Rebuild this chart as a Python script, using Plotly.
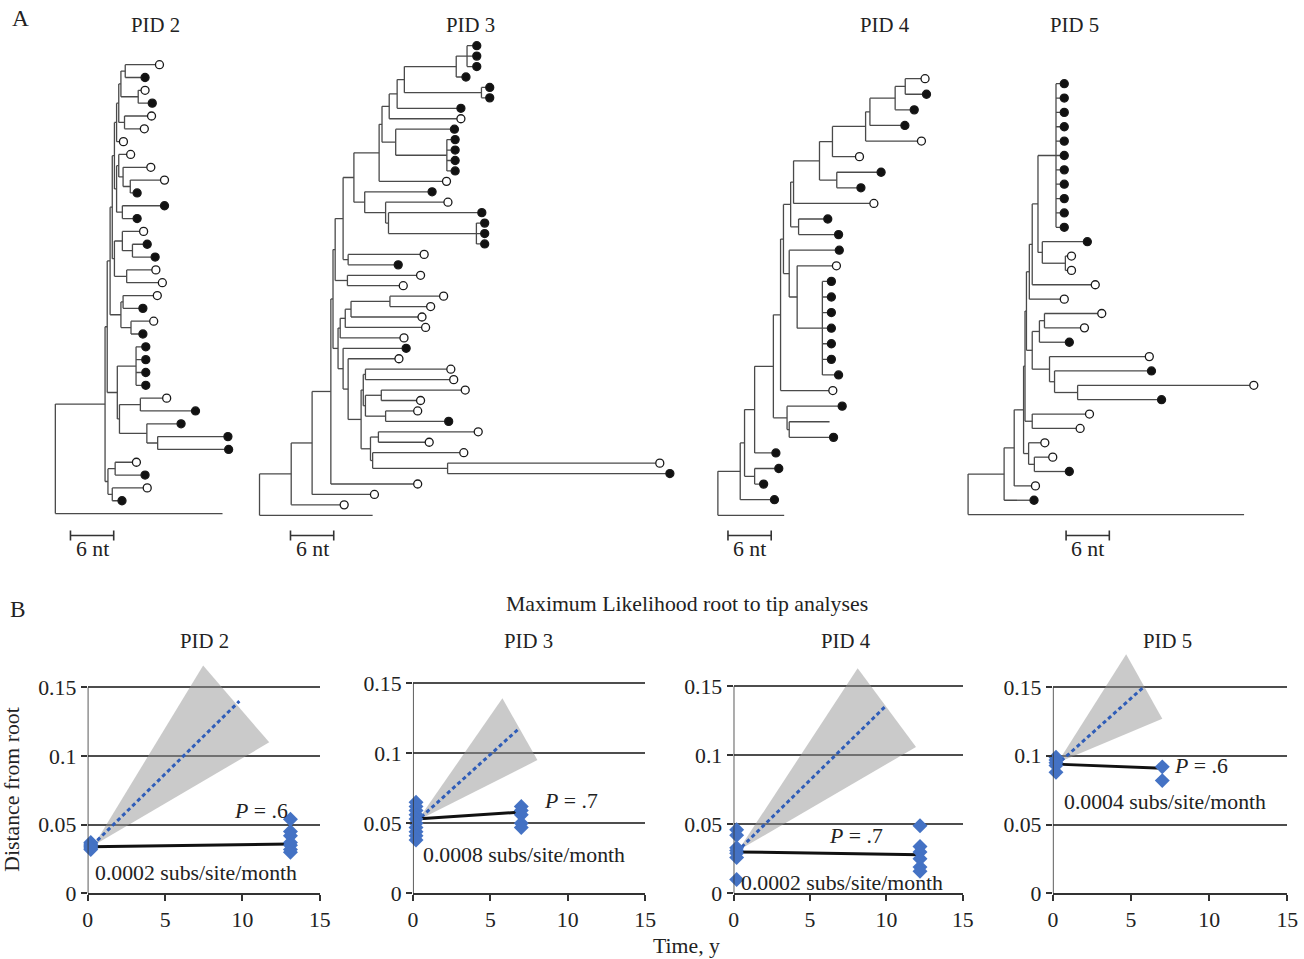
import plotly.graph_objects as go

# figure (page) size and on-screen calibration of the photographed page
W, H = 1312, 972
CAL_SCALE = 0.987
CAL_OFF_X, CAL_OFF_Y = 4.7, 0.3
FONT = "Liberation Serif"
TXT = "#222222"

# ---------------- Panel A data: trees (Newick, branch lengths in nt) ----------------
# tip labels: o = open circle, f = filled circle, n = no marker
# PID 2
P2_G1 = "(((o:4.2,f:2.2):0.6,(o:0.4,f:1.4):2.4):0.3,(o:3.2,o:2.2):0.8):0.3"
P2_Y = f"({P2_G1},o:0.4):0.3"
P2_G23 = "((o:1.1,(o:3.3,(o:4.2,f:0.4):1.0):0.6):0.3,(f:5.3,f:1.5):0.8):0.3"
P2_X = f"({P2_Y},{P2_G23}):0.3"
P2_G45 = "((o:2.4,(f:1.5,f:2.6):1.4):1.1,(o:3.5,o:4.4):1.7):0.3"
P2_W = f"({P2_X},{P2_G45}):0.3"
P2_G6 = "((o:4.2,f:2.2):0.3,(o:2.6,f:1.1):1.4):1.5"
P2_V = f"({P2_W},{P2_G6}):0.4"
P2_G78 = "((f:0.8,f:0.8,f:0.8,f:0.8):2.6,((o:3.1,f:7.1):2.9,(f:4.2,(f:9.2,f:9.3):1.5):3.8):0.3):1.4"
P2_U = f"({P2_V},{P2_G78}):0.3"
P2_G9 = "((o:2.4,f:3.6):1.0,(o:4.3,f:0.8):0.6):0.4"
TREE_PID2 = f"(({P2_U},{P2_G9}):6.9,n:23.2);"

# PID 3
P3_TA5 = "((f:0.8,f:0.8,f:0.8):1.5,f:0.8):7.2"
P3_TA6 = "(f:0.6,f:0.6):10.7"
P3_TA4 = f"({P3_TA5},{P3_TA6}):1.0"
P3_TA3 = f"({P3_TA4},f:8.3):1.1"
P3_TA2 = f"({P3_TA3},o:9.4):1.0"
P3_TC = "(f:7.6,(f:0.6,f:0.6,f:0.6,f:0.6):7.1):1.9"
P3_TA1 = f"({P3_TA2},{P3_TC}):0.4"
P3_TA = f"({P3_TA1},o:8.8):3.5"
P3_TB = "(f:8.8,(o:8.1,(f:12.4,(f:0.6,f:0.6,f:0.6):12.2):0.4):2.9):1.5"
P3_T1 = f"({P3_TA},{P3_TB}):1.5"
P3_N5 = f"({P3_T1},(o:10.0,f:6.4):0.7):1.1"
P3_N4 = f"({P3_N5},(o:9.6,o:7.2):1.7):0.3"
P3_LA2 = "((((o:6.9,o:5.1):5.4,o:9.3):0.8,o:10.6):0.7,o:8.3):0.3"
P3_LC1 = "((o:11.3,o:11.7):0.3,((o:11.1,o:4.9):2.2,(o:3.9,f:8.2):2.8):0.3):0.3"
P3_LC2 = "((o:13.3,o:6.5):1.1,(o:12.1,(o:28.9,f:30.3):10.4):0.3):1.3"
P3_LREST = f"(f:8.2,(o:6.5,({P3_LC1},{P3_LC2}):1.8):0.7):0.7"
P3_L = f"({P3_LA2},{P3_LREST}):0.7"
P3_N3B = f"({P3_N4},{P3_L}):0.3"
P3_N3 = f"({P3_N3B},o:11.5):2.6"
P3_N2 = f"({P3_N3},o:8.1):2.9"
P3_N1 = f"({P3_N2},o:6.8):4.4"
TREE_PID3 = f"({P3_N1},n:15.7);"

# PID 4
P4_N16 = "(o:2.2,f:2.4):1.4"
P4_N15 = f"({P4_N16},f:2.1):3.5"
P4_N14 = f"({P4_N15},f:4.3):0.6"
P4_N13 = f"({P4_N14},o:7.2):4.6"
P4_N12 = f"({P4_N13},o:3.2):1.8"
P4_N11 = f"({P4_N12},(f:5.6,f:2.8):2.4):3.6"
P4_N10 = f"({P4_N11},o:10.6):0.4"
P4_N6 = f"({P4_N10},(f:3.5,f:5.0):1.1):1.0"
P4_N7 = "(f:6.4,(o:4.9,(f:0.7,f:0.7,f:0.7,f:0.7,f:0.7,f:0.7,f:1.7):3.5):1.1):0.8"
P4_N5 = f"({P4_N6},{P4_N7}):0.4"
P4_N4 = f"({P4_N5},o:6.7):1.0"
P4_C22 = "(f:7.1,(n:5.6,f:5.6):0.3):1.9"
P4_N3 = f"({P4_N4},{P4_C22}):2.6"
P4_N2A = f"({P4_N3},f:2.4):1.4"
P4_N2B = "(f:2.8,f:0.7):1.4"
P4_N2 = f"({P4_N2A},{P4_N2B}):0.6"
P4_N1 = f"({P4_N2},f:4.2):3.1"
TREE_PID4 = f"({P4_N1},n:9.2);"

# PID 5
P5_P = "(f:0.6,f:0.6,f:0.6,f:0.6,f:0.6,f:0.6,f:0.6,f:0.6,f:0.6,f:0.6,f:0.6):2.5"
P5_N4 = f"(({P5_P},(f:5.7,(o:0.3,o:0.3):3.2):0.6):0.8,o:8.2):0.4"
P5_N5 = "(((o:7.4,o:5.0):0.7,f:3.6):1.0,(o:13.3,(f:12.9,(o:23.9,f:11.1):3.2):0.7):2.4):0.8"
P5_N3C = f"({P5_N4},o:4.3):0.4"
P5_N3B = f"({P5_N3C},{P5_N5}):0.2"
P5_N3A = f"({P5_N3B},(o:7.4,o:6.1):1.0):0.2"
P5_N3 = f"({P5_N3A},(o:1.7,(o:2.0,f:4.3):0.8):0.7):1.3"
TREE_PID5 = f"((({P5_N3},o:2.4):1.4,f:3.6):5.0,n:38.3);"

TREES = [TREE_PID2, TREE_PID3, TREE_PID4, TREE_PID5]
TREE_TITLES = ["PID 2", "PID 3", "PID 4", "PID 5"]
SCALE_NT = 6
SCALE_START_NT = [2.1, 4.3, 1.4, 13.6]

# ---------------- Panel B data ----------------
SUB_TITLES = ["PID 2", "PID 3", "PID 4", "PID 5"]
T_BASE = [0.2, 0.2, 0.2, 0.2]
T_FOLLOW = [13.1, 7.0, 12.2, 7.0]
D_BASE = [
    [0.037, 0.036, 0.035, 0.034, 0.033, 0.032],
    [0.065, 0.062, 0.059, 0.056, 0.053, 0.050, 0.047, 0.044, 0.041, 0.038],
    [0.046, 0.042, 0.033, 0.031, 0.029, 0.026, 0.010],
    [0.099, 0.097, 0.095, 0.093, 0.088],
]
D_FOLLOW = [
    [0.054, 0.045, 0.042, 0.037, 0.035, 0.032, 0.030],
    [0.062, 0.059, 0.056, 0.050, 0.047],
    [0.049, 0.034, 0.030, 0.025, 0.019, 0.016],
    [0.092, 0.082],
]
FIT_START = [0.034, 0.053, 0.030, 0.094]
FIT_END = [0.036, 0.058, 0.028, 0.091]
EXP_X = [[0.3, 9.8], [0.2, 6.9], [0.2, 9.9], [0.2, 5.8]]
EXP_Y = [[0.035, 0.140], [0.051, 0.118], [0.030, 0.135], [0.093, 0.150]]
CONE_X = [[0.4, 7.46, 11.73], [0.3, 5.78, 8.04], [0.3, 8.12, 11.94], [0.3, 4.69, 7.0]]
CONE_Y = [[0.035, 0.166, 0.110], [0.052, 0.139, 0.095], [0.031, 0.163, 0.106], [0.095, 0.174, 0.127]]
P_TEXT = ["<i>P</i> = .6", "<i>P</i> = .7", "<i>P</i> = .7", "<i>P</i> = .6"]
P_POS = [(11.2, 0.060), (10.2, 0.0655), (8.0, 0.0415), (9.5, 0.0926)]
RATE_TEXT = ["0.0002 subs/site/month", "0.0008 subs/site/month",
             "0.0002 subs/site/month", "0.0004 subs/site/month"]
RATE_POS = [(7.0, 0.0145), (7.2, 0.027), (7.1, 0.0077), (7.15, 0.0664)]
X_TICKS = [0, 5, 10, 15]
Y_TICKS = [0, 0.05, 0.1, 0.15]
Y_TICKTEXT = ["0", "0.05", "0.1", "0.15"]

# ---------------- layout constants (target pixels) ----------------
PX_PER_NT = 7.2
TREE_ROOT_PX = [55, 259, 717, 967]
TREE_DOM_PX = [(40, 250), (250, 700), (700, 950), (950, 1295)]
TREE_ROW0_PX = [65, 46, 79, 84]
TREE_ROW_STEP = [12.83, 10.44, 15.6, 14.37]
TREE_Y_DOM_PX = (30, 526)
TREE_TITLE_X = [155, 470, 884, 1073]
SCALE_Y_PX = 536
TIP_GAP_NT = 0.55

SUB_X_PX = [(87.3, 319.3), (412.3, 644.3), (732.7, 961.7), (1051.7, 1286.0)]
SUB_Y0_PX = 894
SUB_Y15_PX = [688, 683.5, 686.7, 687.7]
Y_TOP = 0.18
SUB_TITLE_X = [204, 528, 845, 1166]

FS_TEXT = 21.5 / CAL_SCALE
FS_TITLE = 20.5 / CAL_SCALE
FS_LETTER = 23 / CAL_SCALE


def parse_newick(s):
    s = s.strip().rstrip(";")
    pos = 0

    def node():
        nonlocal pos
        children = []
        if s[pos] == "(":
            pos += 1
            while True:
                children.append(node())
                if s[pos] == ",":
                    pos += 1
                    continue
                if s[pos] == ")":
                    pos += 1
                    break
        start = pos
        while pos < len(s) and s[pos] not in ":,)":
            pos += 1
        label = s[start:pos]
        length = 0.0
        if pos < len(s) and s[pos] == ":":
            pos += 1
            start = pos
            while pos < len(s) and s[pos] not in ",)":
                pos += 1
            length = float(s[start:pos])
        return {"children": children, "label": label, "len": length}

    return node()


def layout_tree(root):
    lx, ly, tips = [], [], []
    counter = [0]

    def walk(n, parent_depth, is_root):
        depth = parent_depth + (0 if is_root else n["len"])
        if not n["children"]:
            y = counter[0]
            counter[0] += 1
            tips.append((depth, y, n["label"]))
        else:
            ys = [walk(c, depth, False) for c in n["children"]]
            y = (ys[0] + ys[-1]) / 2.0
            lx.extend([depth, depth, None])
            ly.extend([ys[0], ys[-1], None])
        if not is_root:
            lx.extend([parent_depth, depth, None])
            ly.extend([y, y, None])
        return y

    walk(root, 0.0, True)
    return lx, ly, tips, counter[0]


def px2paper_x(px):
    return ((px - CAL_OFF_X) / CAL_SCALE) / W


def px2paper_y(py):
    return 1 - ((py - CAL_OFF_Y) / CAL_SCALE) / H


fig = go.Figure()
layout = dict(
    width=W, height=H, margin=dict(l=0, r=0, t=0, b=0),
    paper_bgcolor="white", plot_bgcolor="rgba(0,0,0,0)",
    showlegend=False, font=dict(family=FONT, size=FS_TEXT, color=TXT),
)
shapes, annotations = [], []

# ---------------- Panel A ----------------
for i, tree in enumerate(TREES):
    ax = i + 1
    xname = "x" if ax == 1 else f"x{ax}"
    yname = "y" if ax == 1 else f"y{ax}"
    root = parse_newick(tree)
    lx, ly, tips, ntips = layout_tree(root)
    fig.add_trace(go.Scatter(x=lx, y=ly, mode="lines",
                             line=dict(color="#4a4a4a", width=1.3),
                             xaxis=xname, yaxis=yname, hoverinfo="skip"))
    for lab, fill in (("f", "#111111"), ("o", "white")):
        xs = [t[0] + TIP_GAP_NT for t in tips if t[2] == lab]
        ys = [t[1] for t in tips if t[2] == lab]
        fig.add_trace(go.Scatter(
            x=xs, y=ys, mode="markers", cliponaxis=False,
            marker=dict(symbol="circle", size=8, color=fill,
                        line=dict(color="#1a1a1a", width=1.3)),
            xaxis=xname, yaxis=yname, hoverinfo="skip"))
    d0, d1 = TREE_DOM_PX[i]
    r = TREE_ROOT_PX[i]
    xr = [(d0 - r) / PX_PER_NT, (d1 - r) / PX_PER_NT]
    top, bot = TREE_Y_DOM_PX
    row_top = (top - TREE_ROW0_PX[i]) / TREE_ROW_STEP[i]
    row_bot = (bot - TREE_ROW0_PX[i]) / TREE_ROW_STEP[i]
    layout["xaxis" if ax == 1 else f"xaxis{ax}"] = dict(
        domain=[px2paper_x(d0), px2paper_x(d1)], range=xr, visible=False,
        anchor=yname, fixedrange=True)
    layout["yaxis" if ax == 1 else f"yaxis{ax}"] = dict(
        domain=[px2paper_y(bot), px2paper_y(top)], range=[row_bot, row_top],
        visible=False, anchor=xname, fixedrange=True)
    # scale bar
    s0 = SCALE_START_NT[i]
    s1 = s0 + SCALE_NT
    yb = px2paper_y(SCALE_Y_PX)
    tk = 5 / (H * CAL_SCALE)
    for (xa, xb, ya, yb2) in ((s0, s1, yb, yb), (s0, s0, yb - tk, yb + tk), (s1, s1, yb - tk, yb + tk)):
        shapes.append(dict(type="line", xref=xname, yref="paper", x0=xa, x1=xb,
                           y0=ya, y1=yb2, line=dict(color="#333333", width=1.6)))
    annotations.append(dict(text=f"{SCALE_NT} nt", xref=xname, yref="paper",
                            x=(s0 + s1) / 2, y=px2paper_y(550), showarrow=False,
                            font=dict(size=FS_TEXT), xanchor="center", yanchor="middle"))
    annotations.append(dict(text=TREE_TITLES[i], xref="paper", yref="paper",
                            x=px2paper_x(TREE_TITLE_X[i]), y=px2paper_y(25),
                            showarrow=False, font=dict(size=FS_TITLE),
                            xanchor="center", yanchor="middle"))

# ---------------- Panel B ----------------
for i in range(4):
    ax = i + 5
    xname, yname = f"x{ax}", f"y{ax}"
    fig.add_trace(go.Scatter(x=CONE_X[i] + [CONE_X[i][0]], y=CONE_Y[i] + [CONE_Y[i][0]],
                             mode="lines", fill="toself",
                             fillcolor="rgba(150,150,150,0.5)",
                             line=dict(width=0, color="rgba(0,0,0,0)"),
                             xaxis=xname, yaxis=yname, hoverinfo="skip"))
    fig.add_trace(go.Scatter(x=EXP_X[i], y=EXP_Y[i], mode="lines",
                             line=dict(color="#2f5db8", width=3, dash="4px,3px"),
                             xaxis=xname, yaxis=yname, hoverinfo="skip"))
    fig.add_trace(go.Scatter(x=[T_BASE[i], T_FOLLOW[i]], y=[FIT_START[i], FIT_END[i]],
                             mode="lines", line=dict(color="#111111", width=3),
                             xaxis=xname, yaxis=yname, hoverinfo="skip"))
    xs = [T_BASE[i]] * len(D_BASE[i]) + [T_FOLLOW[i]] * len(D_FOLLOW[i])
    ys = D_BASE[i] + D_FOLLOW[i]
    fig.add_trace(go.Scatter(x=xs, y=ys, mode="markers", cliponaxis=False,
                             marker=dict(symbol="diamond", size=11.5, color="#4472c4",
                                         line=dict(width=0)),
                             xaxis=xname, yaxis=yname, hoverinfo="skip"))
    x0p, x1p = SUB_X_PX[i]
    y0p = SUB_Y0_PX
    ytop_px = y0p - (y0p - SUB_Y15_PX[i]) * Y_TOP / 0.15
    layout[f"xaxis{ax}"] = dict(
        domain=[px2paper_x(x0p), px2paper_x(x1p)], range=[0, 15], anchor=yname,
        tickvals=X_TICKS, ticks="outside", ticklen=6, tickwidth=1.5, tickcolor="#333",
        showline=True, linecolor="#333333", linewidth=1.6, showgrid=False,
        zeroline=False, tickfont=dict(size=FS_TEXT, color=TXT), fixedrange=True)
    layout[f"yaxis{ax}"] = dict(
        domain=[px2paper_y(y0p), px2paper_y(ytop_px)], range=[0, Y_TOP], anchor=xname,
        tickvals=Y_TICKS, ticktext=Y_TICKTEXT, ticks="outside", ticklen=6,
        tickwidth=1.5, tickcolor="#333", showline=False, showgrid=True,
        gridcolor="#4d4d4d", gridwidth=1.5, zeroline=False,
        tickfont=dict(size=FS_TEXT, color=TXT), fixedrange=True)
    shapes.append(dict(type="line", xref=xname, yref=yname, x0=0, x1=0, y0=0, y1=0.15,
                       line=dict(color="#333333", width=1.6), layer="above"))
    annotations.append(dict(text=P_TEXT[i], xref=xname, yref=yname, x=P_POS[i][0],
                            y=P_POS[i][1], showarrow=False, font=dict(size=FS_TEXT),
                            xanchor="center", yanchor="middle"))
    annotations.append(dict(text=RATE_TEXT[i], xref=xname, yref=yname, x=RATE_POS[i][0],
                            y=RATE_POS[i][1], showarrow=False, font=dict(size=FS_TEXT),
                            xanchor="center", yanchor="middle"))
    annotations.append(dict(text=SUB_TITLES[i], xref="paper", yref="paper",
                            x=px2paper_x(SUB_TITLE_X[i]), y=px2paper_y(641),
                            showarrow=False, font=dict(size=FS_TITLE),
                            xanchor="center", yanchor="middle"))

annotations += [
    dict(text="A", x=px2paper_x(20), y=px2paper_y(18), xref="paper", yref="paper",
         showarrow=False, font=dict(size=FS_LETTER), xanchor="center", yanchor="middle"),
    dict(text="B", x=px2paper_x(18), y=px2paper_y(610), xref="paper", yref="paper",
         showarrow=False, font=dict(size=FS_LETTER), xanchor="center", yanchor="middle"),
    dict(text="Maximum Likelihood root to tip analyses", x=px2paper_x(686),
         y=px2paper_y(605), xref="paper", yref="paper", showarrow=False,
         font=dict(size=FS_TEXT), xanchor="center", yanchor="middle"),
    dict(text="Distance from root", x=px2paper_x(12), y=px2paper_y(790),
         xref="paper", yref="paper", showarrow=False, textangle=-90,
         font=dict(size=FS_TEXT), xanchor="center", yanchor="middle"),
    dict(text="Time, y", x=px2paper_x(686), y=px2paper_y(947), xref="paper",
         yref="paper", showarrow=False, font=dict(size=FS_TEXT),
         xanchor="center", yanchor="middle"),
]

layout["shapes"] = shapes
layout["annotations"] = annotations
fig.update_layout(**layout)
fig.write_html(
    "out.html",
    config={"displayModeBar": False, "responsive": False},
    post_script=(
        "document.documentElement.style.margin='0';"
        "document.documentElement.style.overflow='hidden';"
        "document.body.style.margin='0';document.body.style.padding='0';"
        "document.body.style.overflow='hidden';"
        "var gd=document.getElementById('{plot_id}');"
        "gd.style.position='fixed';gd.style.left='0px';gd.style.top='0px';"
    ),
)
